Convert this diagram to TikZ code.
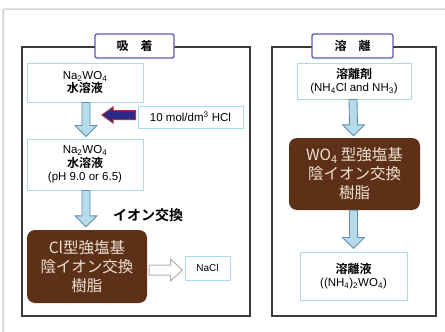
\documentclass[tikz,border=0pt]{standalone}
\usepackage{fontspec}
\setmainfont{Liberation Sans}
\newfontfamily\cjk{Noto Sans CJK JP}[BoldFont={Noto Sans CJK JP Bold}]
\usetikzlibrary{calc}
\definecolor{panelc}{HTML}{3A3A3A}
\definecolor{titlec}{HTML}{5A5AB4}
\definecolor{cyanb}{HTML}{A8DCE6}
\definecolor{brownf}{HTML}{5C3118}
\definecolor{brownt}{HTML}{F0E0D2}
\definecolor{arrf}{HTML}{B6DCEA}
\definecolor{arrd}{HTML}{5F8DB5}
\definecolor{hclf}{HTML}{2A2A86}
\definecolor{hcld}{HTML}{A83448}
\tikzset{
  panel/.style={draw=panelc,line width=1.4pt},
  titlebox/.style={draw=titlec,line width=1.3pt,fill=white,rounded corners=2pt,inner sep=0pt,font=\cjk\bfseries\fontsize{12}{14}\selectfont},
  infobox/.style={draw=cyanb,line width=1pt,fill=white,inner sep=0pt,align=center,font=\fontsize{11.5}{13.5}\selectfont},
  jp/.style={},
  resin/.style={fill=brownf,rounded corners=8pt,inner sep=0pt,align=center,text=brownt,font=\cjk\fontsize{15.5}{19}\selectfont},
  barrow/.style={fill=arrf,draw=arrd,line width=0.9pt,line join=miter},
  hclarrow/.style={fill=hclf,draw=hcld,line width=1pt},
  hollow/.style={fill=white,draw=gray!60,line width=1pt},
}
\newcommand{\jpb}[1]{{\cjk\bfseries\fontsize{12}{14}\selectfont #1}}
\newcommand{\vblock}[2]{%
  \draw[barrow] ($(#1)+(-4,0)$) -- ($(#2)+(-4,-11)$) -- ($(#2)+(-11,-11)$) -- (#2)
    -- ($(#2)+(11,-11)$) -- ($(#2)+(4,-11)$) -- ($(#1)+(4,0)$) -- cycle;}
\begin{document}
\begin{tikzpicture}[x=1pt,y=-1pt]
\useasboundingbox (0,0) rectangle (445,332);
% outer frame
\draw[gray!35,line width=1.5pt,rounded corners=2pt] (3,333) -- (3,9) -- (446,9);
% panels
\draw[panel] (22,47) rectangle (250,316);
\draw[panel] (272,47) rectangle (436,316);
\node[titlebox,minimum width=79pt,minimum height=24pt] (t1) at (134.5,46) {吸\hspace{1em}着};
\node[titlebox,minimum width=81pt,minimum height=24pt] (t2) at (352.5,46) {溶\hspace{1em}離};
% left panel
\node[infobox,minimum width=116pt,minimum height=39pt] (b1) at (85,82.5)
  {Na\textsubscript{2}WO\textsubscript{4}\\\jpb{水溶液}};
\node[infobox,minimum width=105pt,minimum height=22pt] (hcl) at (190.5,117)
  {10 mol/dm\textsuperscript{3} HCl};
\node[infobox,minimum width=116pt,minimum height=51pt] (b2) at (85,164.5)
  {Na\textsubscript{2}WO\textsubscript{4}\\\jpb{水溶液}\\(pH 9.0 or 6.5)};
\node[font=\cjk\bfseries\fontsize{14}{16}\selectfont] (ion) at (148,215) {イオン交換};
\node[resin,minimum width=120pt,minimum height=73pt] (r1) at (87,266.5)
  {Cl型強塩基\\陰イオン交換\\樹脂};
\node[infobox,minimum width=45pt,minimum height=24pt,font=\fontsize{10}{12}\selectfont] (nacl) at (207.5,268) {NaCl};
% right panel
\node[infobox,minimum width=114pt,minimum height=36pt] (e1) at (354,81)
  {\jpb{溶離剤}\\(NH\textsubscript{4}Cl and NH\textsubscript{3})};
\node[resin,minimum width=131pt,minimum height=72pt] (r2) at (354.5,174)
  {WO\textsubscript{4} 型強塩基\\陰イオン交換\\樹脂};
\node[infobox,minimum width=107pt,minimum height=48pt] (e2) at (353.5,276)
  {\jpb{溶離液}\\((NH\textsubscript{4})\textsubscript{2}WO\textsubscript{4})};
% arrows
\coordinate (a1s) at ($(b1.south)+(1,0)$);
\coordinate (a1e) at ($(b2.north)+(1,-2)$);
\vblock{a1s}{a1e}
\coordinate (a2s) at ($(b2.south)+(1,0)$);
\coordinate (a2e) at ($(r1.north)+(-1,-3)$);
\vblock{a2s}{a2e}
\coordinate (a3s) at ($(e1.south)+(-1,0)$);
\coordinate (a3e) at ($(r2.north)+(-1,-2)$);
\vblock{a3s}{a3e}
\coordinate (a4s) at ($(r2.south)+(-1,0)$);
\coordinate (a4e) at ($(e2.north)+(0,-3)$);
\vblock{a4s}{a4e}
% HCl arrow
\coordinate (hs) at ($(hcl.west)+(-2,-2)$);
\coordinate (ht) at (102,115);
\draw[hclarrow] (hs) ++(0,-4.5) -- ($(ht)+(11,-4.5)$) -- ($(ht)+(11,-8)$) -- (ht)
  -- ($(ht)+(11,8)$) -- ($(ht)+(11,4.5)$) -- ($(hs)+(0,4.5)$) -- cycle;
% hollow arrow
\coordinate (ns) at ($(r1.east)+(2,3.5)$);
\coordinate (nt) at ($(nacl.west)+(-2,2)$);
\draw[hollow] ($(ns)+(0,-5)$) -- ($(nt)+(-12,-5)$) -- ($(nt)+(-12,-11)$) -- (nt)
  -- ($(nt)+(-12,11)$) -- ($(nt)+(-12,5)$) -- ($(ns)+(0,5)$) -- cycle;
\end{tikzpicture}
\end{document}
